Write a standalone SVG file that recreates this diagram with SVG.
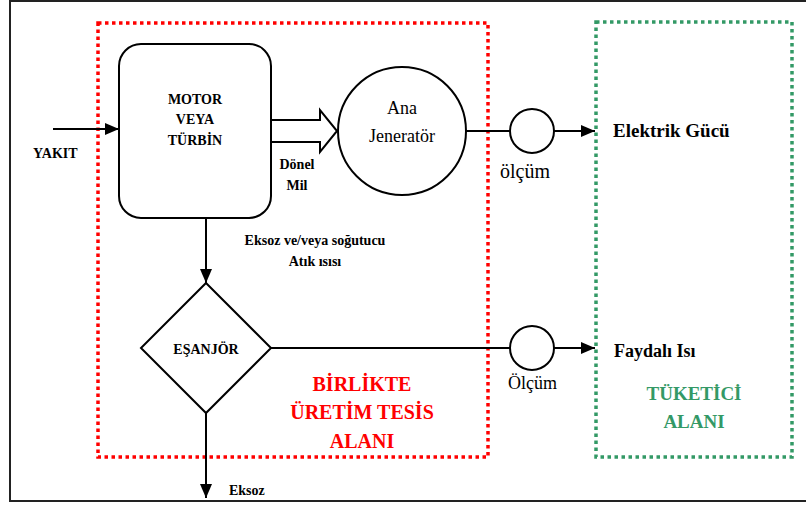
<svg xmlns="http://www.w3.org/2000/svg" width="806" height="506" viewBox="0 0 806 506">
<defs>
<marker id="ahb" markerWidth="14" markerHeight="12" refX="14" refY="6" orient="auto" markerUnits="userSpaceOnUse" viewBox="0 0 14 12">
<path d="M0,0 L14,6 L0,12 Z" fill="#000"/>
</marker>
</defs>
<rect width="806" height="506" fill="#fff"/>
<rect id="frame" x="10" y="1" width="810" height="500" fill="none" stroke="#222" stroke-width="2"/>
<g id="zone-plant">
<rect x="98" y="23" width="390" height="434" fill="none" stroke="#ff0000" stroke-width="3.5" stroke-dasharray="3.5 3.5"/>
<text x="362" y="391" font-family="Liberation Serif" font-weight="bold" font-size="20" fill="#ff0000" text-anchor="middle">BİRLİKTE</text>
<text x="362" y="419" font-family="Liberation Serif" font-weight="bold" font-size="20" fill="#ff0000" text-anchor="middle">ÜRETİM TESİS</text>
<text x="362" y="448" font-family="Liberation Serif" font-weight="bold" font-size="20" fill="#ff0000" text-anchor="middle">ALANI</text>
</g>
<g id="zone-consumer">
<rect x="596" y="22" width="196" height="435" fill="none" stroke="#339966" stroke-width="3.5" stroke-dasharray="3.5 3.5"/>
<text x="694" y="400" font-family="Liberation Serif" font-weight="bold" font-size="19" fill="#339966" text-anchor="middle">TÜKETİCİ</text>
<text x="694" y="428" font-family="Liberation Serif" font-weight="bold" font-size="19" fill="#339966" text-anchor="middle">ALANI</text>
</g>
<g id="connectors" stroke="#000" stroke-width="2" fill="none">
<line x1="53" y1="129" x2="119" y2="129" marker-end="url(#ahb)"/>
<path d="M271,120 H320 V110 L337,131 L320,152 V142 H271" fill="#fff"/>
<line x1="466" y1="131" x2="510" y2="131"/>
<line x1="554" y1="131" x2="595" y2="131" marker-end="url(#ahb)"/>
<line x1="206" y1="218" x2="206" y2="283" marker-end="url(#ahb)"/>
<line x1="271" y1="348" x2="510" y2="348"/>
<line x1="554" y1="348" x2="595" y2="348" marker-end="url(#ahb)"/>
<line x1="206" y1="413" x2="206" y2="498" marker-end="url(#ahb)"/>
</g>
<g id="motor">
<rect x="119" y="44" width="152" height="174" rx="22" fill="#fff" stroke="#000" stroke-width="2"/>
<text x="195" y="104" font-family="Liberation Serif" font-weight="bold" font-size="14" text-anchor="middle">MOTOR</text>
<text x="195" y="124" font-family="Liberation Serif" font-weight="bold" font-size="14" text-anchor="middle">VEYA</text>
<text x="195" y="145" font-family="Liberation Serif" font-weight="bold" font-size="14" text-anchor="middle">TÜRBİN</text>
</g>
<g id="generator">
<circle cx="402" cy="131" r="64" fill="#fff" stroke="#000" stroke-width="2"/>
<text x="402" y="114" font-family="Liberation Serif" font-size="18" text-anchor="middle">Ana</text>
<text x="402" y="142" font-family="Liberation Serif" font-size="18" text-anchor="middle">Jeneratör</text>
</g>
<g id="meter1">
<circle cx="532" cy="131" r="22" fill="#fff" stroke="#000" stroke-width="2"/>
<text x="500" y="178" font-family="Liberation Serif" font-size="20">ölçüm</text>
</g>
<g id="exchanger">
<polygon points="206,283 271,348 206,413 141,348" fill="#fff" stroke="#000" stroke-width="2"/>
<text x="206" y="354" font-family="Liberation Serif" font-weight="bold" font-size="14" text-anchor="middle">EŞANJÖR</text>
</g>
<g id="meter2">
<circle cx="532" cy="348" r="22" fill="#fff" stroke="#000" stroke-width="2"/>
<text x="508" y="389" font-family="Liberation Serif" font-size="18">Ölçüm</text>
</g>
<g id="labels">
<text x="33" y="158" font-family="Liberation Serif" font-weight="bold" font-size="14">YAKIT</text>
<text x="297" y="169" font-family="Liberation Serif" font-weight="bold" font-size="14" text-anchor="middle">Dönel</text>
<text x="297" y="190" font-family="Liberation Serif" font-weight="bold" font-size="14" text-anchor="middle">Mil</text>
<text x="315" y="245" font-family="Liberation Serif" font-weight="bold" font-size="14" text-anchor="middle">Eksoz ve/veya soğutucu</text>
<text x="315" y="266" font-family="Liberation Serif" font-weight="bold" font-size="14" text-anchor="middle">Atık ısısı</text>
<text x="229" y="495" font-family="Liberation Serif" font-weight="bold" font-size="14">Eksoz</text>
<text x="613" y="137" font-family="Liberation Serif" font-weight="bold" font-size="19">Elektrik Gücü</text>
<text x="614" y="357" font-family="Liberation Serif" font-weight="bold" font-size="18">Faydalı Isı</text>
</g>
</svg>
